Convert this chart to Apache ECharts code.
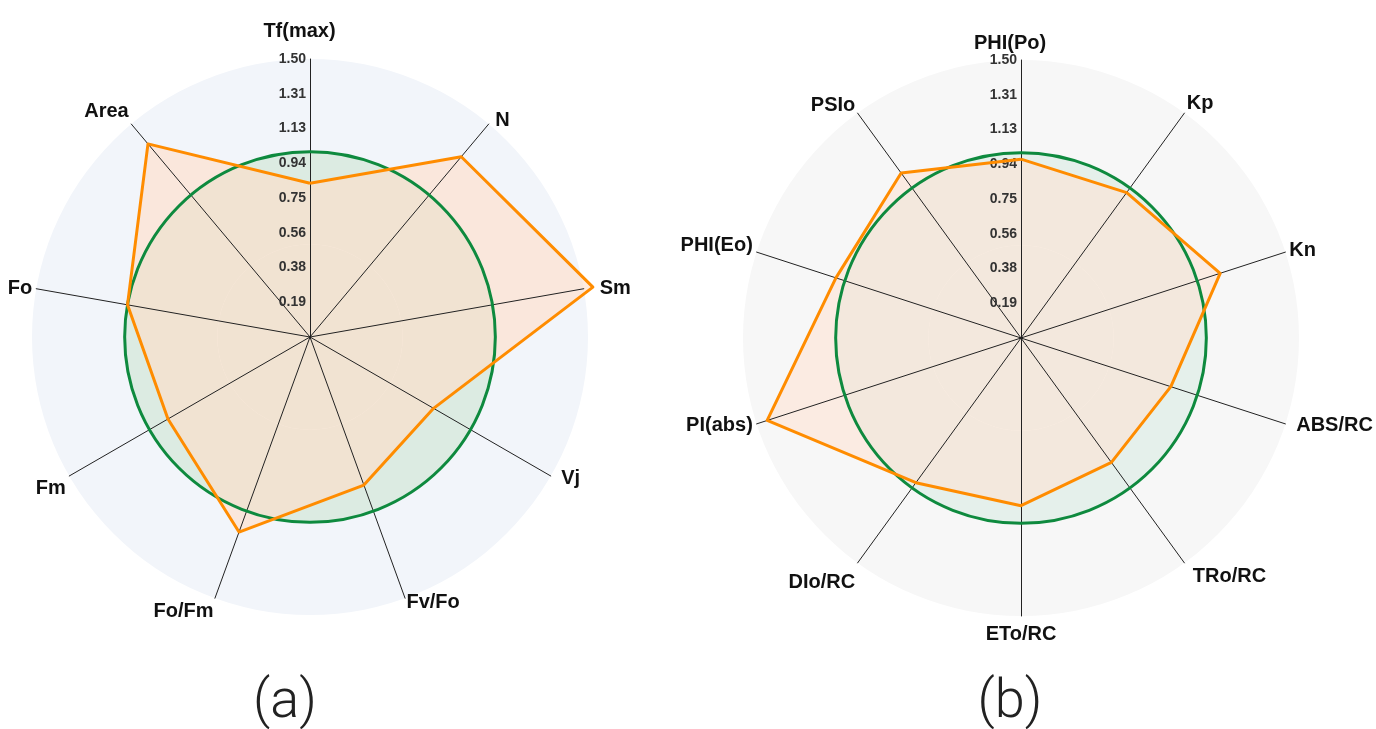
<!DOCTYPE html>
<html>
<head>
<meta charset="utf-8">
<title>radar</title>
<script src="https://cdn.jsdelivr.net/npm/echarts@6.0.0/dist/echarts.min.js"></script>
<style>
html, body { margin: 0; padding: 0; background: #fff; }
#chart { width: 1376px; height: 729px; }
</style>
</head>
<body>
<div id="chart"></div>
<script>
// 指标按图中顺时针顺序（从顶部开始）
var namesA = ["Tf(max)", "N", "Sm", "Vj", "Fv/Fo", "Fo/Fm", "Fm", "Fo", "Area"];
var valuesA = [0.83, 1.27, 1.55, 0.77, 0.85, 1.12, 0.885, 1.0, 1.36];
var namesB = ["PHI(Po)", "Kp", "Kn", "ABS/RC", "TRo/RC", "ETo/RC", "DIo/RC", "PI(abs)", "PHI(Eo)", "PSIo"];
var valuesB = [0.965, 0.97, 1.13, 0.85, 0.83, 0.905, 0.965, 1.44, 1.05, 1.10];
var tickLabels = ["0.19", "0.38", "0.56", "0.75", "0.94", "1.13", "1.31", "1.50"];
var axisMax = 1.5;
var panelLabels = ["(a)", "(b)"];

// 轴名称的微调（padding: 上 右 下 左）
var namePad = {
  "Tf(max)": [0, 21, 14, 0], "N": [0, 0, 0, 4], "Sm": [0, 0, 0, 12], "Vj": [0, 0, 0, 7],
  "Fo/Fm": [18, 0, 0, 0], "Fm": [20, 0, 0, 0], "Area": [0, 0, 18, 0],
  "PHI(Po)": [0, 22, 3, 0], "Kp": [0, 0, 12, 0], "ABS/RC": [0, 0, 0, 7],
  "TRo/RC": [20, 0, 0, 6], "ETo/RC": [4, 0, 0, 0], "DIo/RC": [32, 0, 0, 0],
  "PHI(Eo)": [0, 0, 10, 0], "PSIo": [0, 0, 8, 0]
};

var myChart = echarts.init(document.getElementById("chart"));
var step = axisMax / tickLabels.length;
var FONT = "Liberation Sans, Arial, sans-serif";

// echarts 的雷达图是逆时针排列的，这里翻一下
function ccw(arr) {
  return [arr[0]].concat(arr.slice(1).reverse());
}

function buildPanel(names, values, center, colors) {
  var names2 = ccw(names);
  var rich = {};
  names2.forEach(function (n, i) {
    rich["s" + i] = {
      fontSize: 20,
      fontWeight: "bold",
      fontFamily: FONT,
      color: "#111",
      padding: namePad[n] || [0, 0, 0, 0]
    };
  });
  var plain = names2.map(function (n) {
    return { name: n, max: axisMax, min: 0 };
  });
  var withLabel = names2.map(function (n, i) {
    var o = { name: n, max: axisMax, min: 0 };
    if (i > 0) o.axisLabel = { show: false };
    return o;
  });
  var base = { center: center, radius: 278, startAngle: 90 };
  // 背景圆盘 + 1.0 以内的浅绿色（splitNumber 3 -> 0.5 / 1.0 / 1.5）
  var bg = Object.assign({}, base, {
    z: 0,
    shape: "circle",
    splitNumber: 3,
    indicator: plain,
    axisName: { show: false },
    axisLine: { show: false },
    axisTick: { show: false },
    axisLabel: { show: false },
    splitLine: { show: false },
    splitArea: { show: true, areaStyle: { color: [colors.inner, colors.inner, colors.bg] } }
  });
  var main = Object.assign({}, base, {
    z: 2,
    shape: "polygon",
    splitNumber: tickLabels.length,
    indicator: withLabel,
    axisNameGap: 4,
    axisName: {
      color: "#111",
      fontSize: 20,
      fontWeight: "bold",
      fontFamily: FONT,
      formatter: function (n) {
        return "{s" + names2.indexOf(n) + "|" + n + "}";
      },
      rich: rich
    },
    axisLine: { show: true, lineStyle: { color: "#222", width: 1 } },
    axisTick: { show: false },
    axisLabel: {
      show: true,
      margin: 4,
      color: "#333",
      fontSize: 14,
      fontWeight: "bold",
      fontFamily: FONT,
      formatter: function (v) {
        var k = Math.round(v / step);
        return k === 0 ? "" : tickLabels[k - 1];
      }
    },
    splitLine: { show: false },
    splitArea: { show: false }
  });
  var ring = Object.assign({}, base, {
    z: 3,
    shape: "circle",
    splitNumber: 3,
    indicator: plain,
    axisName: { show: false },
    axisLine: { show: false },
    axisTick: { show: false },
    axisLabel: { show: false },
    splitArea: { show: false },
    splitLine: {
      show: true,
      lineStyle: { color: ["rgba(0,0,0,0)", "rgba(0,0,0,0)", "#0e8a3e", "rgba(0,0,0,0)"], width: 3 }
    }
  });
  return { radars: [bg, main, ring], data: ccw(values), fill: colors.fill };
}

var pa = buildPanel(namesA, valuesA, [310, 337], { bg: "#f2f5fa", inner: "#dcebe2", fill: "rgba(255,222,200,0.6)" });
var pb = buildPanel(namesB, valuesB, [1021, 338], { bg: "#f7f7f7", inner: "#e5f0eb", fill: "rgba(255,225,210,0.55)" });

var series = [];
[pa, pb].forEach(function (p, k) {
  var idx = k * 3 + 1;
  series.push({
    type: "radar",
    radarIndex: idx,
    z: 1,
    symbol: "none",
    silent: true,
    lineStyle: { opacity: 0 },
    areaStyle: { color: p.fill, opacity: 1 },
    data: [{ value: p.data }]
  });
  series.push({
    type: "radar",
    radarIndex: idx,
    z: 4,
    symbol: "none",
    silent: true,
    lineStyle: { color: "#ff8c00", width: 3 },
    data: [{ value: p.data }]
  });
});

var option = {
  animation: false,
  radar: pa.radars.concat(pb.radars),
  series: series,
  graphic: [
    { type: "text", x: 285, y: 703, style: { text: panelLabels[0], fill: "#222", font: "300 54px Roboto, Liberation Sans, sans-serif", textAlign: "center", textVerticalAlign: "middle" } },
    { type: "text", x: 1010, y: 703, style: { text: panelLabels[1], fill: "#222", font: "300 54px Roboto, Liberation Sans, sans-serif", textAlign: "center", textVerticalAlign: "middle" } }
  ]
};

myChart.setOption(option);
</script>
</body>
</html>
